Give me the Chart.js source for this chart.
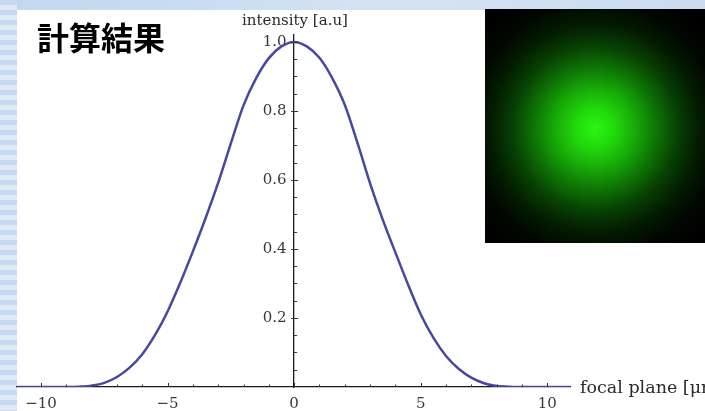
<!DOCTYPE html>
<html><head><meta charset="utf-8">
<script src="https://cdn.jsdelivr.net/npm/chart.js@4.4.1/dist/chart.umd.min.js"></script>
<style>
html,body{margin:0;padding:0;width:705px;height:411px;overflow:hidden;background:#fff;}
#wrap{position:relative;width:705px;height:411px;overflow:hidden;background:#fff;}
#topband{position:absolute;left:0;top:0;width:705px;height:10px;background:linear-gradient(90deg,#c2d6ee,#d4e3f4 55%,#cbdcf1);}
#stripes{position:absolute;left:0;top:0;width:17px;height:411px;background:repeating-linear-gradient(180deg,#c6d9f1 0px,#c6d9f1 5px,#e1eaf7 5px,#e1eaf7 10px);}
canvas{position:absolute;left:0;top:0;}
#title{position:absolute;left:37px;top:20px;font:bold 32px "Noto Sans CJK JP";line-height:32px;color:#000;white-space:nowrap;}
#ylab{position:absolute;left:145px;top:11px;width:300px;text-align:center;font:15px "DejaVu Serif";line-height:18px;color:#2a2a2a;white-space:nowrap;}
#xlab{position:absolute;left:580px;top:376px;font:17.5px "DejaVu Serif";line-height:22px;color:#2a2a2a;white-space:nowrap;}
#photo{position:absolute;left:485px;top:9px;width:220px;height:234px;background:radial-gradient(circle at 50% 51%, #2cf512 0px, #22dc0c 18px, #18b008 38px, #0e7805 60px, #074203 82px, #031c01 104px, #010700 126px, #000 150px);}
</style></head>
<body><div id="wrap">
<div id="topband"></div><div id="stripes"></div>
<canvas id="c" width="705" height="411"></canvas>
<div id="title">計算結果</div>
<div id="ylab">intensity [a.u]</div>
<div id="xlab">focal plane [μm]</div>
<div id="photo"></div>
</div>
<script>
const focalPlane = [-11,-10.5,-10,-9.5,-9,-8.5,-8,-7.5,-7,-6.5,-6,-5.5,-5,-4.5,-4,-3.5,-3,-2.5,-2,-1.5,-1,-0.5,0,0.5,1,1.5,2,2.5,3,3.5,4,4.5,5,5.5,6,6.5,7,7.5,8,8.5,9,9.5,10,10.5,11];
const intensity = [0,0,0,0,0,0.001,0.004,0.012,0.029,0.056,0.095,0.15,0.219,0.302,0.393,0.489,0.592,0.706,0.816,0.895,0.953,0.987,1.0,0.987,0.954,0.896,0.818,0.708,0.59,0.485,0.39,0.297,0.211,0.143,0.09,0.053,0.027,0.011,0.003,0.001,0,0,0,0,0];
const xTickValues = [-10,-5,0,5,10];
const xTickLabels = ['\u221210','\u22125','0','5','10'];
const yTickValues = [0.2,0.4,0.6,0.8,1.0];
const yTickLabels = ['0.2','0.4','0.6','0.8','1.0'];

const axisTicks = {
  id:'axisTicks',
  afterDraw(chart){
    const {ctx, scales:{x, y}} = chart;
    const x0 = x.getPixelForValue(0), y0 = y.getPixelForValue(0);
    ctx.save();
    ctx.strokeStyle = '#333';
    ctx.lineWidth = 1;
    ctx.beginPath();
    for (let v = -10; v <= 10; v++) {
      const px = Math.round(x.getPixelForValue(v)) + 0.5;
      const major = v % 5 === 0;
      ctx.moveTo(px, y0);
      ctx.lineTo(px, y0 - (major ? 4 : 2.5));
    }
    for (let k = 1; k <= 20; k++) {
      const py = Math.round(y.getPixelForValue(k * 0.05)) + 0.5;
      const major = k % 4 === 0;
      ctx.moveTo(x0 - (major ? 3 : 0), py);
      ctx.lineTo(x0 + (major ? 4 : 3), py);
    }
    ctx.stroke();
    ctx.restore();
  }
};

new Chart(document.getElementById('c'), {
  type: 'line',
  data: {
    datasets: [{
      data: focalPlane.map((v, i) => ({x: v, y: intensity[i]})),
      borderColor: '#4848a2',
      borderWidth: 2.5,
      pointRadius: 0,
      cubicInterpolationMode: 'monotone',
      fill: false
    }]
  },
  options: {
    responsive: false,
    animation: false,
    devicePixelRatio: 1,
    layout: {padding: {left: 17, right: 135, top: 35, bottom: 24}},
    plugins: {legend: {display: false}, tooltip: {enabled: false}},
    scales: {
      x: {
        type: 'linear', position: {y: 0}, min: -10.95, max: 10.9,
        grid: {display: false, drawTicks: false},
        border: {display: true, color: '#1a1a1a', width: 1.3},
        afterBuildTicks: s => { s.ticks = xTickValues.map(v => ({value: v})); },
        ticks: {
          callback: v => xTickLabels[xTickValues.indexOf(v)],
          font: {family: 'DejaVu Serif', size: 15}, color: '#383838',
          padding: 8, maxRotation: 0, autoSkip: false
        }
      },
      y: {
        type: 'linear', position: {x: 0}, min: 0, max: 1.02,
        grid: {display: false, drawTicks: false},
        border: {display: true, color: '#1a1a1a', width: 1.3},
        afterBuildTicks: s => { s.ticks = yTickValues.map(v => ({value: v})); },
        ticks: {
          callback: v => yTickLabels[yTickValues.indexOf(v)] + '\u2002',
          font: {family: 'DejaVu Serif', size: 15}, color: '#383838',
          padding: 8, autoSkip: false
        }
      }
    }
  },
  plugins: [axisTicks]
});
</script>
</body></html>
